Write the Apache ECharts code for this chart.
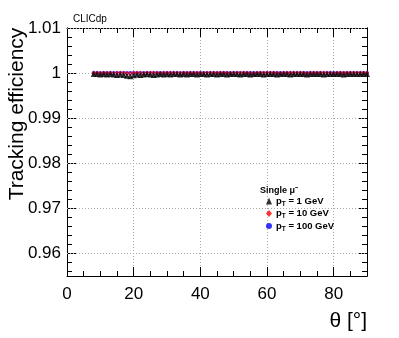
<!DOCTYPE html>
<html>
<head>
<meta charset="utf-8">
<script src="https://cdn.jsdelivr.net/npm/echarts@6/dist/echarts.min.js"></script>
<style>
  html, body { margin: 0; padding: 0; background: #fff; }
  #chart { width: 399px; height: 338px; }
</style>
</head>
<body>
<div id="chart"></div>
<script>
// polar angle bins [deg]
const theta = [8, 9, 10, 11, 12, 13, 14, 15, 16, 17, 18, 19, 20, 21, 22, 23, 24, 25, 26, 27,
  28, 29, 30, 31, 32, 33, 34, 35, 36, 37, 38, 39, 40, 41, 42, 43, 44, 45, 46, 47,
  48, 49, 50, 51, 52, 53, 54, 55, 56, 57, 58, 59, 60, 61, 62, 63, 64, 65, 66, 67,
  68, 69, 70, 71, 72, 73, 74, 75, 76, 77, 78, 79, 80, 81, 82, 83, 84, 85, 86, 87,
  88, 89, 90];
// pT = 1 GeV
const eff1 = [0.9998, 0.9998, 0.9997, 0.9998, 0.9997, 0.9998, 0.9997, 0.9996, 0.9997, 0.9996,
  0.9994, 0.9993, 0.9995, 0.9997, 0.9996, 0.9997, 0.9998, 0.9997, 0.9996, 0.9997,
  0.9998, 0.9997, 0.9998, 0.9997, 0.9998, 0.9998, 0.9997, 0.9998, 0.9997, 0.9998,
  0.9998, 0.9997, 0.9998, 0.9998, 0.9997, 0.9998, 0.9998, 0.9997, 0.9998, 0.9998,
  0.9997, 0.9998, 0.9998, 0.9998, 0.9997, 0.9998, 0.9998, 0.9997, 0.9998, 0.9998,
  0.9998, 0.9997, 0.9998, 0.9998, 0.9998, 0.9997, 0.9998, 0.9998, 0.9998, 0.9997,
  0.9998, 0.9998, 0.9998, 0.9998, 0.9997, 0.9998, 0.9998, 0.9998, 0.9998, 0.9997,
  0.9998, 0.9998, 0.9998, 0.9998, 0.9998, 0.9997, 0.9998, 0.9998, 0.9998, 0.9998,
  0.9998, 0.9998, 0.9998];
// pT = 10 GeV
const eff10 = [1.0, 1.0, 0.9999, 1.0, 1.0, 1.0, 0.9999, 1.0, 1.0, 1.0,
  0.9999, 0.9999, 1.0, 1.0, 1.0, 0.9999, 1.0, 1.0, 1.0, 1.0,
  0.9999, 1.0, 1.0, 1.0, 1.0, 1.0, 0.9999, 1.0, 1.0, 1.0,
  1.0, 1.0, 1.0, 0.9999, 1.0, 1.0, 1.0, 1.0, 1.0, 1.0,
  1.0, 0.9999, 1.0, 1.0, 1.0, 1.0, 1.0, 1.0, 0.9999, 1.0,
  1.0, 1.0, 1.0, 1.0, 1.0, 1.0, 0.9999, 1.0, 1.0, 1.0,
  1.0, 1.0, 1.0, 1.0, 0.9999, 1.0, 1.0, 1.0, 1.0, 1.0,
  1.0, 1.0, 0.9999, 1.0, 1.0, 1.0, 1.0, 1.0, 1.0, 1.0,
  1.0, 1.0, 1.0];
// pT = 100 GeV
const eff100 = [1.0, 1.0, 1.0, 1.0, 1.0, 1.0, 1.0, 1.0, 1.0, 1.0,
  1.0, 1.0, 1.0, 1.0, 1.0, 1.0, 1.0, 1.0, 1.0, 1.0,
  1.0, 1.0, 1.0, 1.0, 1.0, 1.0, 1.0, 1.0, 1.0, 1.0,
  1.0, 1.0, 1.0, 1.0, 1.0, 1.0, 1.0, 1.0, 1.0, 1.0,
  1.0, 1.0, 1.0, 1.0, 1.0, 1.0, 1.0, 1.0, 1.0, 1.0,
  1.0, 1.0, 1.0, 1.0, 1.0, 1.0, 1.0, 1.0, 1.0, 1.0,
  1.0, 1.0, 1.0, 1.0, 1.0, 1.0, 1.0, 1.0, 1.0, 1.0,
  1.0, 1.0, 1.0, 1.0, 1.0, 1.0, 1.0, 1.0, 1.0, 1.0,
  1.0, 1.0, 1.0];

const yMajor = [0.96, 0.97, 0.98, 0.99, 1.0, 1.01];
const yMinor = [0.956, 0.958, 0.962, 0.964, 0.966, 0.968, 0.972, 0.974, 0.976, 0.978,
  0.982, 0.984, 0.986, 0.988, 0.992, 0.994, 0.996, 0.998, 1.002, 1.004, 1.006, 1.008];
const seriesNames = ['pT = 1 GeV', 'pT = 10 GeV', 'pT = 100 GeV'];
const seriesColors = ['#000000', '#ff0000', '#0000ff'];

const font = 'Liberation Sans, Arial, Helvetica, sans-serif';
const gridDots = { color: '#aaa', type: [1, 2], width: 1 };

function pairs(ys) {
  return theta.map((t, i) => [t, ys[i]]);
}

// one x axis (bottom or top) with ROOT-like inside ticks
function xAx(pos, show) {
  return {
    type: 'value', position: pos, min: 0, max: 90, interval: 20,
    axisLine: { show: true, onZero: false, lineStyle: { color: '#000', width: 1 } },
    axisTick: { inside: true, length: 9, lineStyle: { color: '#000' } },
    minorTick: { show: true, splitNumber: 4, length: 5, lineStyle: { color: '#000' } },
    axisLabel: { show: show, showMaxLabel: false, fontFamily: font, fontSize: 17,
      color: '#000', margin: 10 },
    splitLine: { show: show, lineStyle: gridDots }
  };
}

// y axis: major ticks with labels, or minor ticks only
function yAx(pos, major, labels) {
  return {
    type: 'value', position: pos, min: 0.955, max: 1.01, offset: 0,
    axisLine: { show: true, onZero: false, lineStyle: { color: '#000', width: 1 } },
    axisTick: { inside: true, length: major ? 9 : 5, customValues: major ? yMajor : yMinor,
      lineStyle: { color: '#000' } },
    axisLabel: { show: labels, customValues: yMajor, fontFamily: font, fontSize: 17,
      color: '#000', margin: 6,
      formatter: v => String(Math.round(v * 100) / 100) },
    splitLine: { show: false }
  };
}

let chart = echarts.init(document.getElementById('chart'), null, { renderer: 'canvas' });

let option = {
  animation: false,
  backgroundColor: '#fff',
  title: [
    { text: 'CLICdp', left: 68, top: 9,
      textStyle: { fontFamily: font, fontSize: 10, fontWeight: 'normal', color: '#000' } },
    { text: 'Single μ⁻', left: 255, top: 181,
      textStyle: { fontFamily: font, fontSize: 9, fontWeight: 'bold', color: '#000' } }
  ],
  grid: { left: 67, right: 32, top: 28, bottom: 62, containLabel: false },
  legend: {
    data: seriesNames,
    orient: 'vertical', left: 261, top: 191,
    itemWidth: 6, itemHeight: 7, itemGap: 1,
    formatter: name => '{p|p}{t|T}{g|' + name.slice(2) + '}',
    textStyle: {
      fontFamily: font, color: '#000', padding: [0, 0, 0, -1],
      rich: {
        p: { fontFamily: font, fontSize: 9.5, fontWeight: 'bold' },
        t: { fontFamily: font, fontSize: 6.5, fontWeight: 'bold', padding: [6, 0, 0, 0] },
        g: { fontFamily: font, fontSize: 9.5, fontWeight: 'bold' }
      }
    }
  },
  xAxis: [
    Object.assign(xAx('bottom', true), {
      name: 'θ [°]', nameLocation: 'end', nameGap: 0,
      nameTextStyle: { fontFamily: font, fontSize: 21, color: '#000',
        align: 'right', verticalAlign: 'top', padding: [35, 0, 0, 0] }
    }),
    xAx('top', false)
  ],
  yAxis: [
    yAx('left', true, true),
    yAx('left', false, false),
    yAx('right', true, false),
    yAx('right', false, false)
  ],
  graphic: [
    { type: 'text', x: 17, y: 114, rotation: Math.PI / 2,
      style: { text: 'Tracking efficiency', fontFamily: font, fontSize: 21, fill: '#000',
        align: 'center', verticalAlign: 'middle' } }
  ],
  series: [
    { name: seriesNames[2], type: 'scatter', data: pairs(eff100), symbol: 'circle', symbolSize: 4,
      itemStyle: { color: seriesColors[2] }, z: 3 },
    { name: seriesNames[1], type: 'scatter', data: pairs(eff10), symbol: 'diamond', symbolSize: [4, 5],
      itemStyle: { color: seriesColors[1] }, z: 4 },
    { name: seriesNames[0], type: 'scatter', data: pairs(eff1), symbol: 'triangle', symbolSize: 6,
      itemStyle: { color: seriesColors[0] }, z: 5 },
    // dotted horizontal grid lines at the major y values
    { type: 'line', silent: true, data: [], z: 1,
      markLine: { silent: true, symbol: 'none', label: { show: false },
        lineStyle: gridDots,
        data: yMajor.map(v => ({ yAxis: v })) } }
  ]
};

option && chart.setOption(option);
</script>
</body>
</html>
